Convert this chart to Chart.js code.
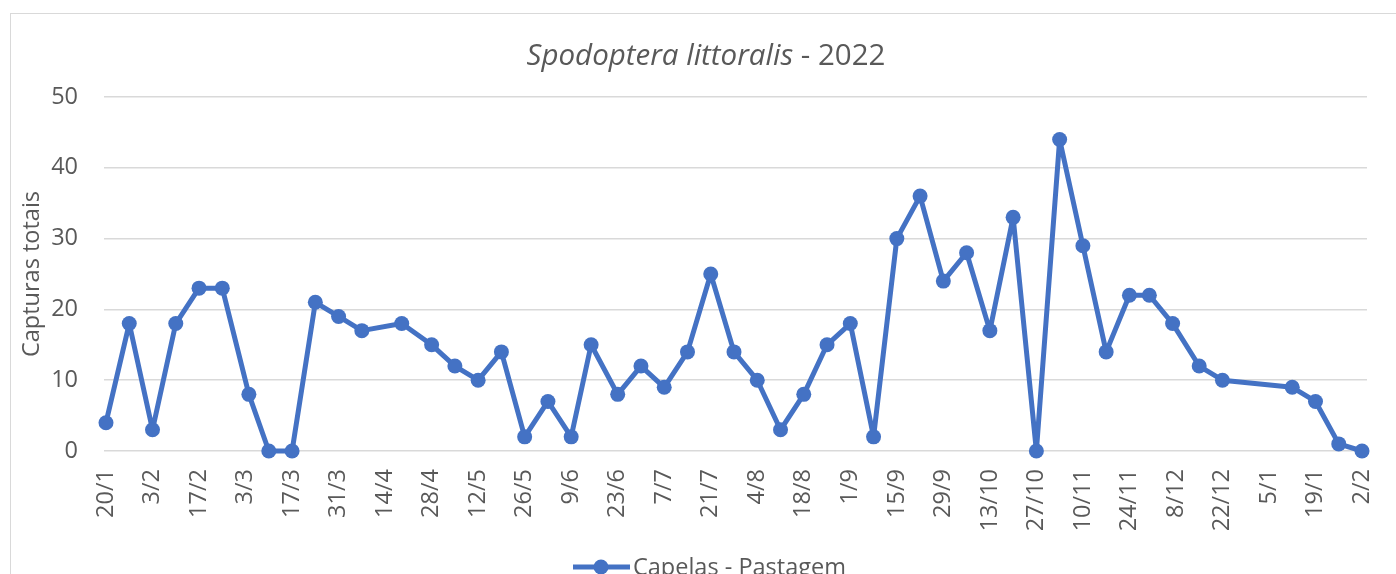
<!DOCTYPE html>
<html>
<head>
<meta charset="utf-8">
<script src="https://cdn.jsdelivr.net/npm/chart.js@4.4.1/dist/chart.umd.min.js"></script>
<style>
    html, body { margin: 0; padding: 0; width: 1396px; height: 574px; overflow: hidden; background: #fff; }
    #wrap { position: relative; width: 1396px; height: 600px; }
    #frame { position: absolute; left: 10px; top: 13px; width: 1500px; height: 700px; border: 1.5px solid #d9d9d9; box-sizing: border-box; pointer-events: none; }
    canvas { position: absolute; left: 0; top: 0; }
</style>
</head>
<body>
<div id="wrap">
    <canvas id="chart" width="1396" height="600"></canvas>
    <div id="frame"></div>
</div>
<script>
// sampling dates (weekly trap checks) and total captures
const startDate = '2022-01-20';
const sampleDates = [
    '2022-01-20', '2022-01-27', '2022-02-03', '2022-02-10', '2022-02-17', '2022-02-24',
    '2022-03-04', '2022-03-10', '2022-03-17', '2022-03-24', '2022-03-31', '2022-04-07',
    '2022-04-19', '2022-04-28', '2022-05-05', '2022-05-12', '2022-05-19', '2022-05-26',
    '2022-06-02', '2022-06-09', '2022-06-15', '2022-06-23', '2022-06-30', '2022-07-07',
    '2022-07-14', '2022-07-21', '2022-07-28', '2022-08-04', '2022-08-11', '2022-08-18',
    '2022-08-25', '2022-09-01', '2022-09-08', '2022-09-15', '2022-09-22', '2022-09-29',
    '2022-10-06', '2022-10-13', '2022-10-20', '2022-10-27', '2022-11-03', '2022-11-10',
    '2022-11-17', '2022-11-24', '2022-11-30', '2022-12-07', '2022-12-15', '2022-12-22',
    '2023-01-12', '2023-01-19', '2023-01-26', '2023-02-02'
];
const capturas = [
    4, 18, 3, 18, 23, 23,
    8, 0, 0, 21, 19, 17,
    18, 15, 12, 10, 14, 2,
    7, 2, 15, 8, 12, 9,
    14, 25, 14, 10, 3, 8,
    15, 18, 2, 30, 36, 24,
    28, 17, 33, 0, 44, 29,
    14, 22, 22, 18, 12, 10,
    9, 7, 1, 0
];
const tickDates = [
    '2022-01-20', '2022-02-03', '2022-02-17', '2022-03-03', '2022-03-17', '2022-03-31',
    '2022-04-14', '2022-04-28', '2022-05-12', '2022-05-26', '2022-06-09', '2022-06-23',
    '2022-07-07', '2022-07-21', '2022-08-04', '2022-08-18', '2022-09-01', '2022-09-15',
    '2022-09-29', '2022-10-13', '2022-10-27', '2022-11-10', '2022-11-24', '2022-12-08',
    '2022-12-22', '2023-01-05', '2023-01-19', '2023-02-02'
];
const seriesName = 'Capelas - Pastagem';
const yTitle = 'Capturas totais';

const FONT = "'Open Sans', sans-serif";
const TEXT = '#595959';
const BLUE = '#4472C4';

function dayOf(iso) {
    return Math.round((Date.parse(iso) - Date.parse(startDate)) / 86400000);
}
function labelOf(iso) {
    const d = new Date(iso + 'T00:00:00Z');
    return d.getUTCDate() + '/' + (d.getUTCMonth() + 1);
}

const points = sampleDates.map((d, i) => ({ x: dayOf(d), y: capturas[i] }));
const tickDays = tickDates.map(dayOf);
const tickLabels = tickDates.map(labelOf);

const titlePlugin = {
    id: 'excelTitle',
    afterDraw(chart) {
        const ctx = chart.ctx;
        ctx.save();
        ctx.fillStyle = TEXT;
        ctx.textBaseline = 'middle';
        const italic = 'italic 29.5px ' + FONT;
        const normal = '29.5px ' + FONT;
        const a = 'Spodoptera littoralis';
        const b = ' - 2022';
        ctx.font = italic;
        const wa = ctx.measureText(a).width;
        ctx.font = normal;
        const wb = ctx.measureText(b).width;
        let x = 706 - (wa + wb) / 2;
        ctx.textAlign = 'left';
        ctx.font = italic;
        ctx.fillText(a, x, 57);
        ctx.font = normal;
        ctx.fillText(b, x + wa, 57);

        // legend: line with marker, then series name
        ctx.strokeStyle = BLUE;
        ctx.lineWidth = 5;
        ctx.beginPath();
        ctx.moveTo(573, 567);
        ctx.lineTo(630, 567);
        ctx.stroke();
        ctx.fillStyle = BLUE;
        ctx.beginPath();
        ctx.arc(601, 567, 7.5, 0, Math.PI * 2);
        ctx.fill();
        ctx.fillStyle = TEXT;
        ctx.font = '23.5px ' + FONT;
        ctx.fillText(seriesName, 633, 568);
        ctx.restore();
    }
};

new Chart(document.getElementById('chart'), {
    type: 'line',
    data: {
        datasets: [{
            label: seriesName,
            data: points,
            clip: false,
            borderColor: BLUE,
            backgroundColor: BLUE,
            borderWidth: 5,
            borderJoinStyle: 'round',
            borderCapStyle: 'round',
            pointRadius: 7.5,
            pointBorderWidth: 0,
            pointBackgroundColor: BLUE,
            tension: 0
        }]
    },
    options: {
        responsive: false,
        animation: false,
        layout: { padding: { left: 10, top: 97, right: 29, bottom: 0 } },
        plugins: {
            legend: { display: false },
            title: { display: false },
            tooltip: { enabled: false }
        },
        scales: {
            x: {
                type: 'linear',
                min: -0.6,
                max: 379.5,
                afterBuildTicks: (scale) => {
                    scale.ticks = tickDays.map(v => ({ value: v }));
                },
                afterFit: (scale) => {
                    scale.height = 149;
                    scale.paddingLeft = 0;
                    scale.paddingRight = 0;
                },
                grid: { display: false, drawTicks: false },
                border: { display: false },
                ticks: {
                    autoSkip: false,
                    minRotation: 90,
                    maxRotation: 90,
                    padding: 18,
                    color: TEXT,
                    font: { family: FONT, size: 23.5 },
                    callback: (value) => {
                        const i = tickDays.indexOf(value);
                        return i >= 0 ? tickLabels[i] : '';
                    }
                }
            },
            y: {
                min: 0,
                max: 50,
                afterFit: (scale) => { scale.width = 94; },
                grid: { color: '#d9d9d9', lineWidth: 1.5, drawTicks: false },
                border: { display: false },
                ticks: {
                    stepSize: 10,
                    padding: 26,
                    color: TEXT,
                    font: { family: FONT, size: 23.5 }
                },
                title: {
                    display: true,
                    text: yTitle,
                    color: TEXT,
                    font: { family: FONT, size: 23.5 },
                    padding: { top: 8, bottom: 0 }
                }
            }
        }
    },
    plugins: [titlePlugin]
});
</script>
</body>
</html>
